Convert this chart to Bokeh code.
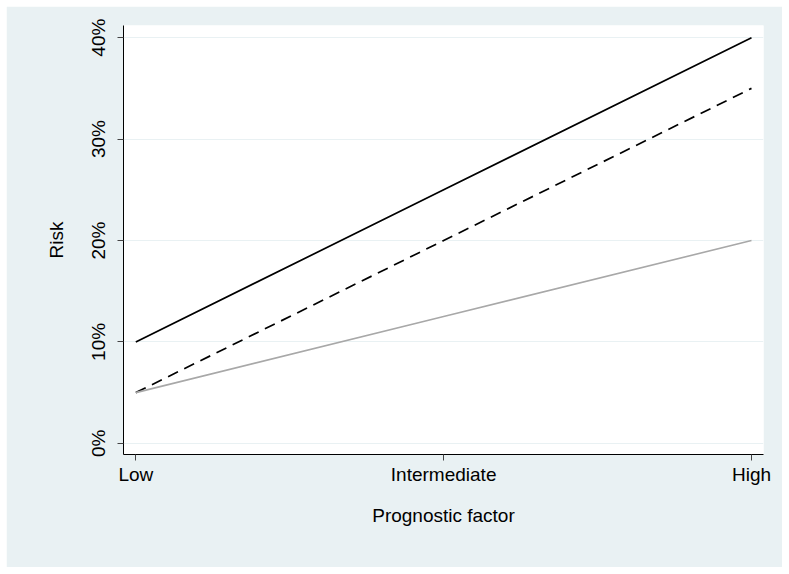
from bokeh.plotting import figure
from bokeh.models import FixedTicker, Range1d
from bokeh.embed import file_html
from bokeh.resources import INLINE

categories = ["Low", "Intermediate", "High"]
x_pos = [0, 1, 2]
series_solid = [10, 25, 40]
series_dashed = [5, 20, 35]
series_gray = [5, 12.5, 20]
y_ticks = [0, 10, 20, 30, 40]
y_tick_labels = ["0%", "10%", "20%", "30%", "40%"]

BG = "#E9F1F3"
FONT = "Liberation Sans"
FS = "19px"

p = figure(width=776, height=561, output_backend="svg", toolbar_location=None,
           x_range=Range1d(-0.04, 2.039), y_range=Range1d(-1.1, 41.2),
           min_border_left=117, min_border_right=19, min_border_top=19, min_border_bottom=113)
p.margin = (6, 0, 0, 6)
p.background_fill_color = "white"
p.border_fill_color = BG
p.outline_line_color = None

p.line(x_pos, series_solid, line_color="black", line_width=1.7)
p.line(x_pos, series_dashed, line_color="black", line_width=1.7, line_dash="11 7")
p.line(x_pos, series_gray, line_color="#A8A8A8", line_width=1.6)

p.xaxis.ticker = FixedTicker(ticks=x_pos)
p.xaxis.major_label_overrides = {x: c for x, c in zip(x_pos, categories)}
p.yaxis.ticker = FixedTicker(ticks=y_ticks)
p.yaxis.major_label_overrides = {t: l for t, l in zip(y_ticks, y_tick_labels)}
p.yaxis.major_label_orientation = "vertical"

for ax in (p.xaxis, p.yaxis):
    ax.axis_line_color = "black"
    ax.axis_line_width = 1
    ax.major_tick_line_color = "#444444"
    ax.major_tick_out = 6
    ax.major_tick_in = 0
    ax.minor_tick_line_color = None
    ax.major_label_text_font = FONT
    ax.major_label_text_font_size = FS
    ax.major_label_text_color = "black"
    ax.axis_label_text_font = FONT
    ax.axis_label_text_font_size = FS
    ax.axis_label_text_font_style = "normal"
    ax.axis_label_text_color = "black"

p.xaxis.axis_label = "Prognostic factor"
p.yaxis.axis_label = "Risk"
p.xaxis.major_label_standoff = 3
p.yaxis.major_label_standoff = 8
p.xaxis.axis_label_standoff = 17
p.yaxis.axis_label_standoff = 19

p.xgrid.grid_line_color = None
p.ygrid.grid_line_color = BG
p.ygrid.grid_line_width = 1.2

open("out.html", "w").write(file_html(p, INLINE))
